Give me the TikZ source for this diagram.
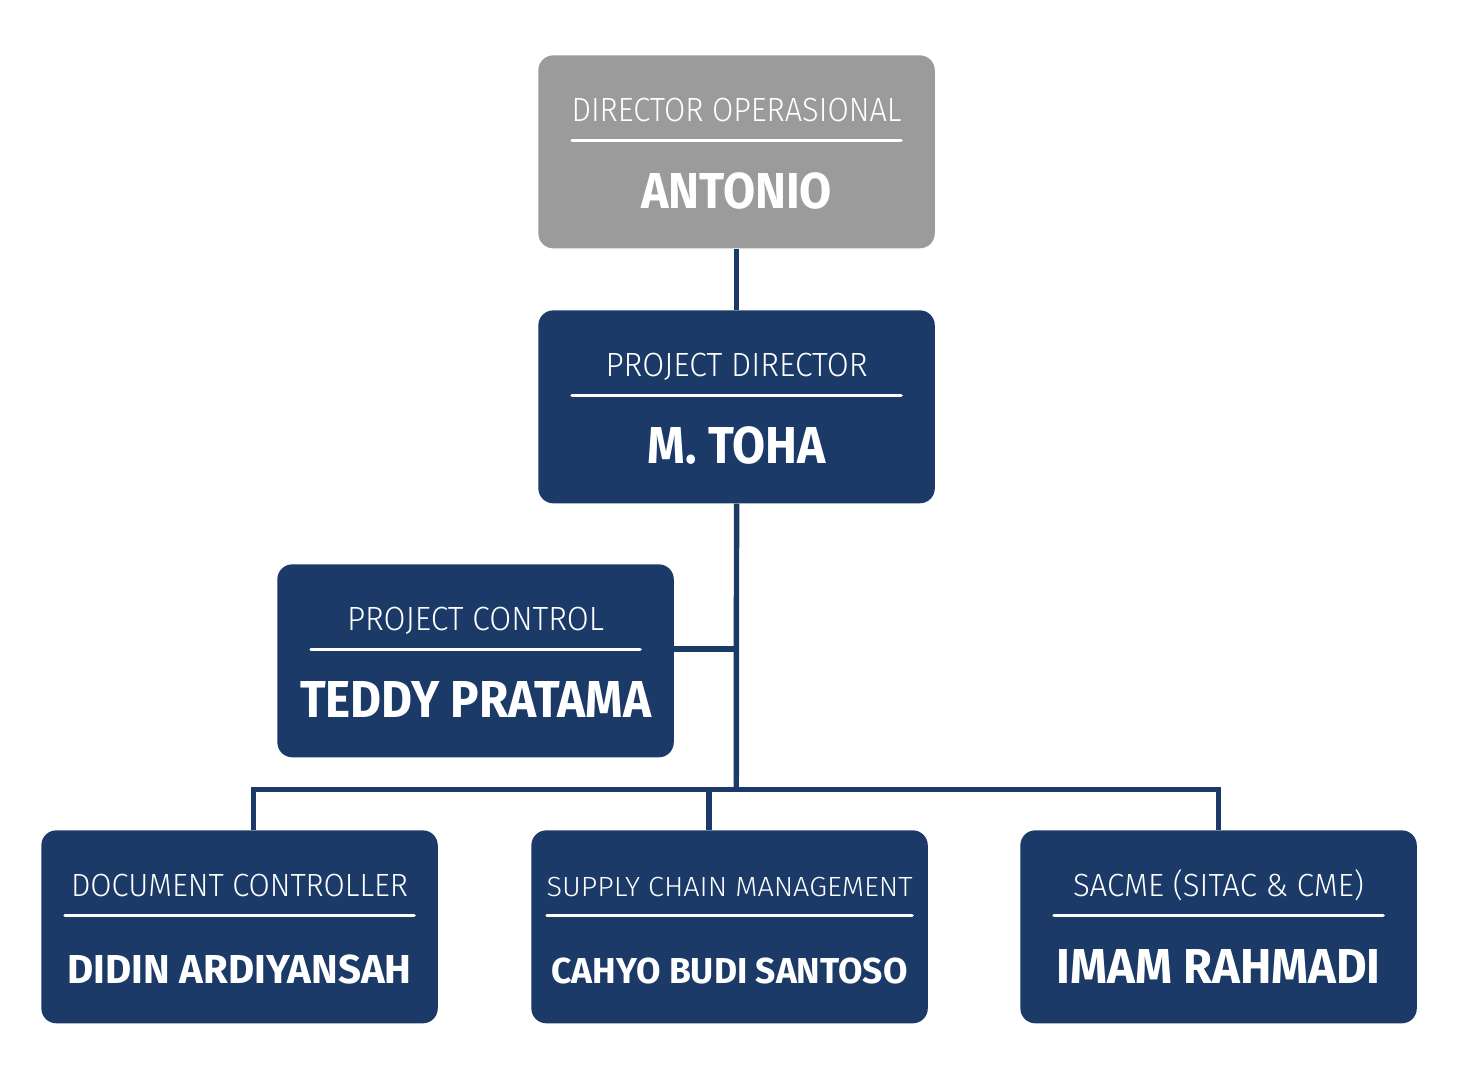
\documentclass[tikz,border=0pt]{standalone}
\usepackage{fontspec}
\usepackage{graphicx}
\usetikzlibrary{calc}
\setmainfont{Fira Sans}
\newfontfamily\titlef{Fira Sans}[UprightFont={* Light}]
\newfontfamily\namef{Fira Sans}[UprightFont={* Bold}]
\definecolor{navy}{RGB}{27,58,104}
\definecolor{cgray}{RGB}{155,155,155}
\newlength\pxu
\setlength\pxu{0.02cm}
\newcommand\fitbox[4]{\resizebox{#2\pxu}{#3\pxu}{#1\raisebox{0pt}[\fontcharht\font`H][0pt]{#4}}}
\begin{document}
\begin{tikzpicture}[x=0.02cm,y=-0.02cm,
  card/.style={rounded corners=8.5pt, anchor=north west, minimum width=7.93cm, minimum height=3.86cm, inner sep=0pt, fill=navy},
  txt/.style={anchor=base, inner sep=0pt, text=white},
  uline/.style={draw=white, line width=1.9pt, line cap=round},
  link/.style={draw=navy, line width=3.1pt}]
\useasboundingbox (0,0) rectangle (1459,1077);
\fill[white] (0,0) rectangle (1459,1077);

% cards
\node[card, fill=cgray] (top) at (538,55) {};
\node[card] (pd) at (538,310) {};
\node[card] (pc) at (277,564) {};
\node[card] (dc) at (41,830) {};
\node[card] (scm) at (531,830) {};
\node[card] (sa) at (1020,830) {};

% connectors
\coordinate (jc) at (736.25,789.5);
\coordinate (jdc) at (253.5,789.5);
\coordinate (jscm) at (709,789.5);
\coordinate (jsa) at (1218.5,789.5);
\coordinate (jpc) at ($(pc.north east)+(0,85)$);
\draw[link] (top.south) -- (pd.north);
\draw[link] (pd.south) -- (jc);
\draw[link] (jpc) -- (jpc -| jc);
\draw[link] (jdc |- dc.north) -- (jdc) -- (jsa) -- (jsa |- sa.north);
\draw[link] (jscm) -- (jscm |- scm.north);

% top
\node[txt] (topT) at ($(top.north)+(0,66.5)$) {\fitbox{\titlef}{330}{23}{DIRECTOR OPERASIONAL}};
\draw[uline] ($(top.north west)+(34,85.5)$) -- ($(top.north east)+(-34,85.5)$);
\node[txt] (topN) at ($(top.north)+(0,153.5)$) {\fitbox{\namef}{191}{35}{ANTONIO}};

% project director
\node[txt] (pdT) at ($(pd.north)+(0,66.5)$) {\fitbox{\titlef}{262}{23}{PROJECT DIRECTOR}};
\draw[uline] ($(pd.north west)+(34,85.5)$) -- ($(pd.north east)+(-34,85.5)$);
\node[txt] (pdN) at ($(pd.north)+(0,153.5)$) {\fitbox{\namef}{178}{36}{M. TOHA}};

% project control
\node[txt] (pcT) at ($(pc.north)+(0,66.5)$) {\fitbox{\titlef}{257}{23}{PROJECT CONTROL}};
\draw[uline] ($(pc.north west)+(34,85.5)$) -- ($(pc.north east)+(-34,85.5)$);
\node[txt] (pcN) at ($(pc.north)+(0,153.5)$) {\fitbox{\namef}{351}{36}{TEDDY PRATAMA}};

% document controller
\node[txt] (dcT) at ($(dc.north)+(0,66.5)$) {\fitbox{\titlef}{337}{22}{DOCUMENT CONTROLLER}};
\draw[uline] ($(dc.north west)+(24,85.5)$) -- ($(dc.north east)+(-24,85.5)$);
\node[txt] (dcN) at ($(dc.north)+(0,153.5)$) {\fitbox{\namef}{344}{28}{DIDIN ARDIYANSAH}};

% supply chain management
\node[txt] (scmT) at ($(scm.north)+(0,66)$) {\fitbox{\titlef}{366}{19}{SUPPLY CHAIN MANAGEMENT}};
\draw[uline] ($(scm.north west)+(16,85.5)$) -- ($(scm.north east)+(-16,85.5)$);
\node[txt] (scmN) at ($(scm.north)+(0,153)$) {\fitbox{\namef}{356}{25}{CAHYO BUDI SANTOSO}};

% sacme
\node[txt] (saT) at ($(sa.north)+(0,66.5)$) {\fitbox{\titlef}{291}{22}{SACME (SITAC \& CME)}};
\draw[uline] ($(sa.north west)+(34,85.5)$) -- ($(sa.north east)+(-34,85.5)$);
\node[txt] (saN) at ($(sa.north)+(0,153.5)$) {\fitbox{\namef}{324}{34}{IMAM RAHMADI}};
\end{tikzpicture}
\end{document}
